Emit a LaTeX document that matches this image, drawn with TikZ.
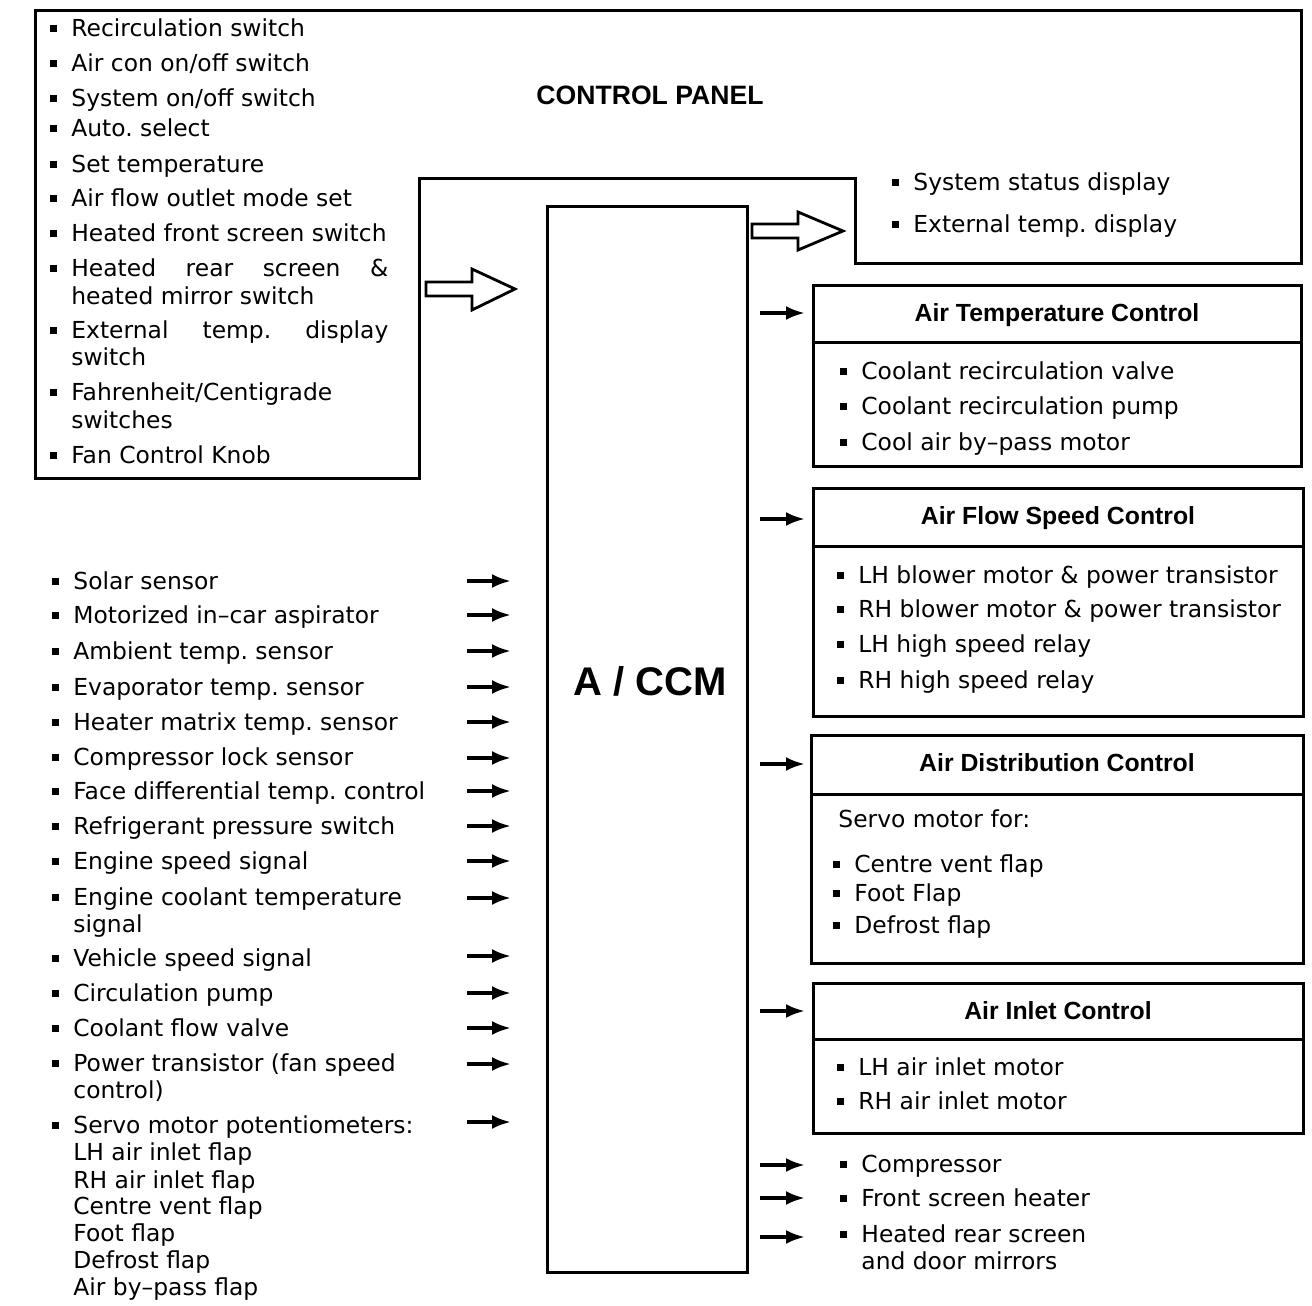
\documentclass[tikz,border=0pt]{standalone}
\usepackage{fontspec}
\setmainfont{DejaVu Sans}
\newfontfamily\headfont{Liberation Sans}
\usetikzlibrary{arrows.meta}

\newcommand{\bul}{\rule[2.5pt]{3.5pt}{3.5pt}\hspace{7pt}}

\begin{document}
\frenchspacing
\begin{tikzpicture}[x=0.5pt, y=-0.5pt,
    every node/.style={inner sep=0pt, font=\fontsize{11.7}{14}\selectfont},
    item/.style={anchor=base west, yshift=-4.27pt},
    head/.style={anchor=base, yshift=-4.44pt, font=\headfont\bfseries\fontsize{12.4}{14}\selectfont},
    panel/.style={draw, line width=1.5pt},
    sig/.style={-{Latex[length=9.5pt,width=7pt]}, line width=1.8pt},
    hollow/.style={draw, line width=1.4pt, fill=white}]
    \useasboundingbox (0,0) rectangle (1312,1306);

    \draw[panel] (35,10) -- (1301,10) -- (1301,263) -- (855,263) -- (855,178) -- (419,178) -- (419,478) -- (35,478) -- cycle;
    \draw[panel] (547,206) rectangle (747,1272);

    \node[head, font=\headfont\bfseries\fontsize{13.3}{15}\selectfont] (cptitle) at (650,96) {CONTROL PANEL};
    \node[anchor=base, yshift=-7.2pt, font=\headfont\bfseries\fontsize{20}{24}\selectfont] (ccm) at (650,681) {A / CCM};

    \draw[hollow] (426,282) -- (472,282) -- (472,269) -- (515,289) -- (472,310) -- (472,296) -- (426,296) -- cycle;
    \draw[hollow] (752,224) -- (798,224) -- (798,212) -- (843,231) -- (798,250) -- (798,238) -- (752,238) -- cycle;

    \foreach \y/\t [count=\i] in {28/Recirculation switch, 63/{Air con on/off switch}, 98/{System on/off switch}, 128/Auto. select, 164/Set temperature, 198/Air flow outlet mode set, 233/Heated front screen switch}
      \node[item] (cp\i) at (50,\y) {\bul\t};
    \node[item] (cp8) at (50,268) {\bul\makebox[158.5pt][s]{Heated\hfill rear\hfill screen\hfill \&}};
    \node[item] (cp8b) at (71,296) {heated mirror switch};
    \node[item] (cp9) at (50,330) {\bul\makebox[158.5pt][s]{External\hfill temp.\hfill display}};
    \node[item] (cp9b) at (71,357) {switch};
    \node[item] (cp10) at (50,392) {\bul Fahrenheit/Centigrade};
    \node[item] (cp10b) at (71,420) {switches};
    \node[item] (cp11) at (50,455) {\bul Fan Control Knob};

    \node[item] (st1) at (892,182) {\bul System status display};
    \node[item] (st2) at (892,224) {\bul External temp. display};

    \foreach \y/\t [count=\i] in {581/Solar sensor, 615/Motorized in–car aspirator, 651/Ambient temp. sensor, 687/Evaporator temp. sensor, 722/Heater matrix temp. sensor, 757/Compressor lock sensor, 791/Face differential temp. control, 826/Refrigerant pressure switch, 861/Engine speed signal, 897/Engine coolant temperature, 958/Vehicle speed signal, 993/Circulation pump, 1028/Coolant flow valve, 1063/Power transistor (fan speed, 1125/Servo motor potentiometers:}
      \node[item] (sn\i) at (52,\y) {\bul\t};
    \foreach \y/\t [count=\i] in {924/signal, 1090/control), 1152/LH air inlet flap, 1180/RH air inlet flap, 1206/Centre vent flap, 1233/Foot flap, 1260/Defrost flap, 1287/Air by–pass flap}
      \node[item] (sn\i b) at (73,\y) {\t};

    \foreach \y [count=\i] in {581,615,651,687,722,758,791,826,861,898,956,993,1028,1064,1122} {
      \coordinate (ia\i) at (467,\y);
      \coordinate (ib\i) at (511,\y);
      \draw[sig] (ia\i) -- (ib\i);
    }
    \foreach \y [count=\i] in {313,519,764,1011,1165,1198,1237} {
      \coordinate (oa\i) at (760,\y);
      \coordinate (ob\i) at (805,\y);
      \draw[sig] (oa\i) -- (ob\i);
    }

    \foreach \l/\t/\d/\b/\r/\n [count=\i] in {813/285/342/466/1301/Air Temperature Control, 813/488/546/716/1303/Air Flow Speed Control, 811/735/794/963/1303/Air Distribution Control, 813/983/1039/1133/1303/Air Inlet Control} {
      \draw[panel] (\l,\t) rectangle (\r,\b);
      \draw[panel] (\l,\d) -- (\r,\d);
      \node[head] (hd\i) at ({(\l+\r)/2},\t+28) {\n};
    }

    \foreach \y/\t [count=\i] in {371/Coolant recirculation valve, 406/Coolant recirculation pump, 442/Cool air by–pass motor}
      \node[item] (tc\i) at (840,\y) {\bul\t};
    \foreach \y/\t [count=\i] in {575/LH blower motor \& power transistor, 609/RH blower motor \& power transistor, 644/LH high speed relay, 680/RH high speed relay}
      \node[item] (fs\i) at (837,\y) {\bul\t};
    \node[item] (dsv) at (838,819) {Servo motor for:};
    \foreach \y/\t [count=\i] in {864/Centre vent flap, 893/Foot Flap, 925/Defrost flap}
      \node[item] (ds\i) at (833,\y) {\bul\t};
    \foreach \y/\t [count=\i] in {1067/LH air inlet motor, 1101/RH air inlet motor}
      \node[item] (ai\i) at (837,\y) {\bul\t};
    \foreach \y/\t [count=\i] in {1164/Compressor, 1198/Front screen heater, 1234/Heated rear screen}
      \node[item] (ot\i) at (840,\y) {\bul\t};
    \node[item] (ot3b) at (861,1261) {and door mirrors};
  \end{tikzpicture}
\end{document}
